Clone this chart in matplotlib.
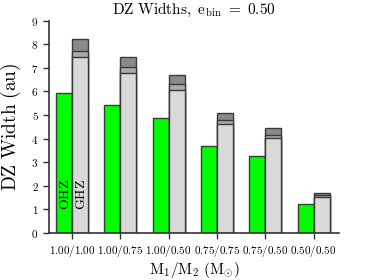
import matplotlib
matplotlib.use("Agg")
import matplotlib.pyplot as plt
import numpy as np

plt.rcParams['mathtext.fontset'] = 'cm'
plt.rcParams['font.family'] = 'serif'
plt.rcParams['font.serif'] = ['DejaVu Serif']

labels = ['1.00/1.00', '1.00/0.75', '1.00/0.50', '0.75/0.75', '0.75/0.50', '0.50/0.50']
ohz = [5.92, 5.42, 4.87, 3.67, 3.25, 1.21]
ghz_low = [7.45, 6.78, 6.07, 4.61, 4.04, 1.51]   # light grey
ghz_mid = [7.73, 7.03, 6.32, 4.78, 4.16, 1.62]   # medium grey
ghz_high = [8.22, 7.48, 6.69, 5.07, 4.46, 1.69]  # dark grey

x = np.arange(len(labels))
w = 0.33
ec = '#3a3a3a'

fig = plt.figure(figsize=(3.74, 2.8), dpi=100)
ax = fig.add_axes([0.131, 0.168, 0.775, 0.758])

ax.bar(x - w / 2, ohz, w, color='#00ff00', edgecolor=ec, linewidth=1)
ax.bar(x + w / 2, ghz_high, w, color='#8a8a8a', edgecolor=ec, linewidth=1)
ax.bar(x + w / 2, ghz_mid, w, color='#ababab', edgecolor=ec, linewidth=1)
ax.bar(x + w / 2, ghz_low, w, color='#d9d9d9', edgecolor=ec, linewidth=1)

ax.text(x[0] - w / 2 + 0.02, 1.63, r'$\mathrm{OHZ}$', rotation=90, ha='center', va='center', fontsize=10)
ax.text(x[0] + w / 2 + 0.02, 1.63, r'$\mathrm{GHZ}$', rotation=90, ha='center', va='center', fontsize=10)

ax.set_xlim(-0.475, 5.52)
ax.set_ylim(0, 9)
ax.set_xticks(x)
ax.set_xticklabels(['$' + s + '$' for s in labels], fontsize=8)
ax.set_yticks(range(10))
ax.set_yticklabels(['$%d$' % v for v in range(10)], fontsize=8)
ax.tick_params(direction='out', length=4, width=1, colors='#333333', labelcolor='black')
ax.tick_params(axis='x', pad=3)
ax.spines['top'].set_visible(False)
ax.spines['right'].set_visible(False)
for s in ['left', 'bottom']:
    ax.spines[s].set_linewidth(1.2)
    ax.spines[s].set_color('#333333')

ax.set_title(r'$\mathrm{DZ\ Widths,\ e_{bin}\ =\ 0.50}$', fontsize=11, pad=5)
ax.set_ylabel(r'$\mathrm{DZ\ Width\ (au)}$', fontsize=14, labelpad=6)
ax.set_xlabel(r'$\mathrm{M_1/M_2\ (M_{\odot})}$', fontsize=11, va='center')
ax.xaxis.set_label_coords(0.5, -0.175)

fig.savefig('out.png', dpi=100)
